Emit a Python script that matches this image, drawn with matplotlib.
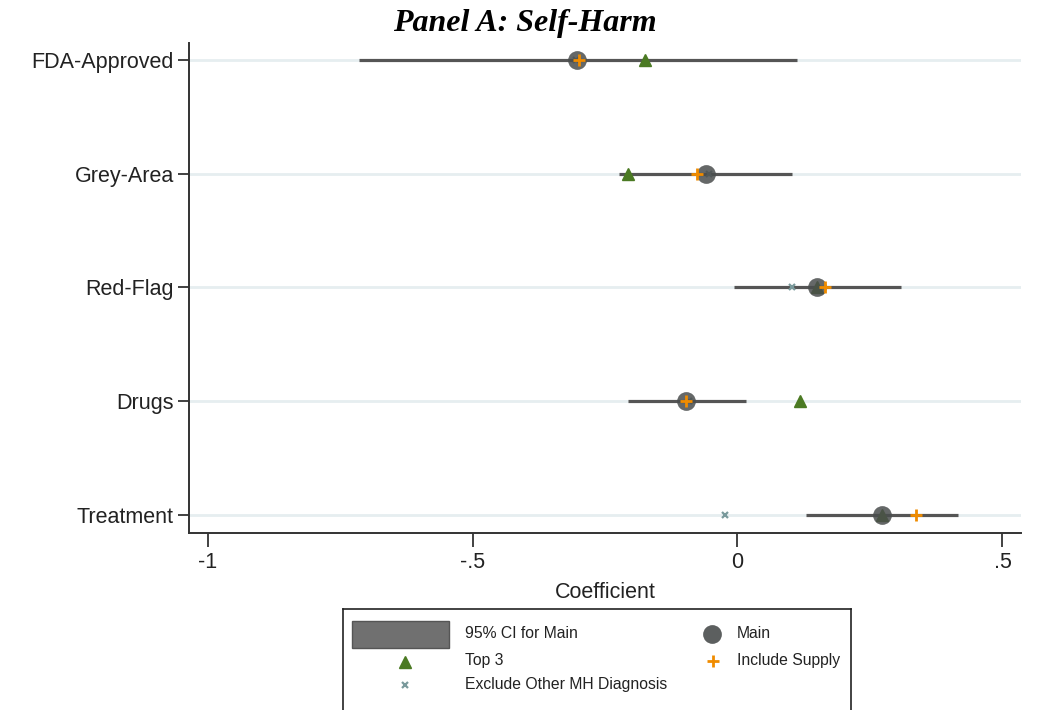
import matplotlib
matplotlib.use("Agg")
import matplotlib.pyplot as plt
from matplotlib.patches import Rectangle

plt.rcParams['font.family'] = ['Liberation Sans', 'DejaVu Sans']

categories = ["FDA-Approved", "Grey-Area", "Red-Flag", "Drugs", "Treatment"]
main = [-0.302, -0.060, 0.150, -0.097, 0.272]
ci_lo = [-0.714, -0.224, -0.007, -0.207, 0.130]
ci_hi = [0.112, 0.103, 0.308, 0.016, 0.416]
top3 = [-0.175, -0.206, 0.150, 0.118, 0.272]
supply = [-0.300, -0.077, 0.165, -0.098, 0.337]
excl = [-0.305, -0.054, 0.103, -0.092, -0.024]
xticks = [-1, -0.5, 0, 0.5]
xticklabels = ["-1", "-.5", "0", ".5"]

c_main = "#4a4d4d"
c_ci = "#555555"
c_top3 = "#4b7a23"
c_supply = "#f08c00"
c_excl = "#7a9a9c"

fig = plt.figure(figsize=(10.4, 7.1), dpi=100)
ax = fig.add_axes([189/1040, 1-533/710, 832/1040, 490/710])

ypos = list(range(len(categories)))
for y in ypos:
    ax.axhline(y, color="#e6eef0", lw=2, zorder=0)

ax.hlines(ypos, ci_lo, ci_hi, color=c_ci, lw=2.3, zorder=2)
ax.plot(top3, ypos, ls="none", marker="^", ms=9, color=c_top3, zorder=3)
ax.plot(excl, ypos, ls="none", marker="x", ms=5, mew=1.6, color=c_excl, zorder=3)
ax.plot(main, ypos, ls="none", marker="o", ms=13.5, color=c_main, alpha=0.85, mew=0, zorder=4)
ax.plot(supply, ypos, ls="none", marker="+", ms=8, mew=2, color=c_supply, zorder=5)

ax.set_xlim(-1.035, 0.535)
ax.set_ylim(len(categories) - 1 + 0.16, -0.15)
ax.set_yticks(ypos)
ax.set_yticklabels(categories, fontsize=15.5, color="#222222")
ax.set_xticks(xticks)
ax.set_xticklabels(xticklabels, fontsize=15.5, color="#222222")
ax.set_xlabel("Coefficient", fontsize=15.5, color="#222222", labelpad=6)
ax.tick_params(axis="y", length=8, width=1.3, color="#333333", pad=3)
ax.tick_params(axis="x", length=10, width=1.3, color="#333333", pad=4)
for s in ["top", "right"]:
    ax.spines[s].set_visible(False)
for s in ["left", "bottom"]:
    ax.spines[s].set_linewidth(1.4)
    ax.spines[s].set_color("#333333")

fig.text(0.505, 1 - 31/710, "Panel A: Self-Harm", fontsize=23, family="Liberation Serif",
         fontweight="bold", fontstyle="italic", ha="center", va="baseline")

# legend drawn by hand in pixel coordinates
lg = fig.add_axes([343/1040, 1-720/710, 508/1040, 111/710])
lg.set_xlim(343, 851)
lg.set_ylim(720, 609)
lg.set_xticks([])
lg.set_yticks([])
for s in lg.spines.values():
    s.set_linewidth(1.2)
    s.set_color("#222222")
lg.add_patch(Rectangle((352, 621), 97, 27, facecolor="#707070", edgecolor="#555555", lw=1))
lg.plot([405], [662], marker="^", ms=9, color=c_top3, ls="none")
lg.plot([405], [685], marker="x", ms=5, mew=1.6, color=c_excl, ls="none")
lg.plot([712], [634], marker="o", ms=13.5, color=c_main, mew=0, alpha=0.9, ls="none")
lg.plot([713], [661], marker="+", ms=8, mew=2, color=c_supply, ls="none")
for x, y, t in [(465, 634, "95% CI for Main"), (465, 661, "Top 3"),
                (465, 685, "Exclude Other MH Diagnosis"), (737, 634, "Main"),
                (737, 661, "Include Supply")]:
    lg.text(x, y, t, fontsize=11.3, color="#222222", va="center", ha="left")

fig.savefig("out.png", dpi=100)
